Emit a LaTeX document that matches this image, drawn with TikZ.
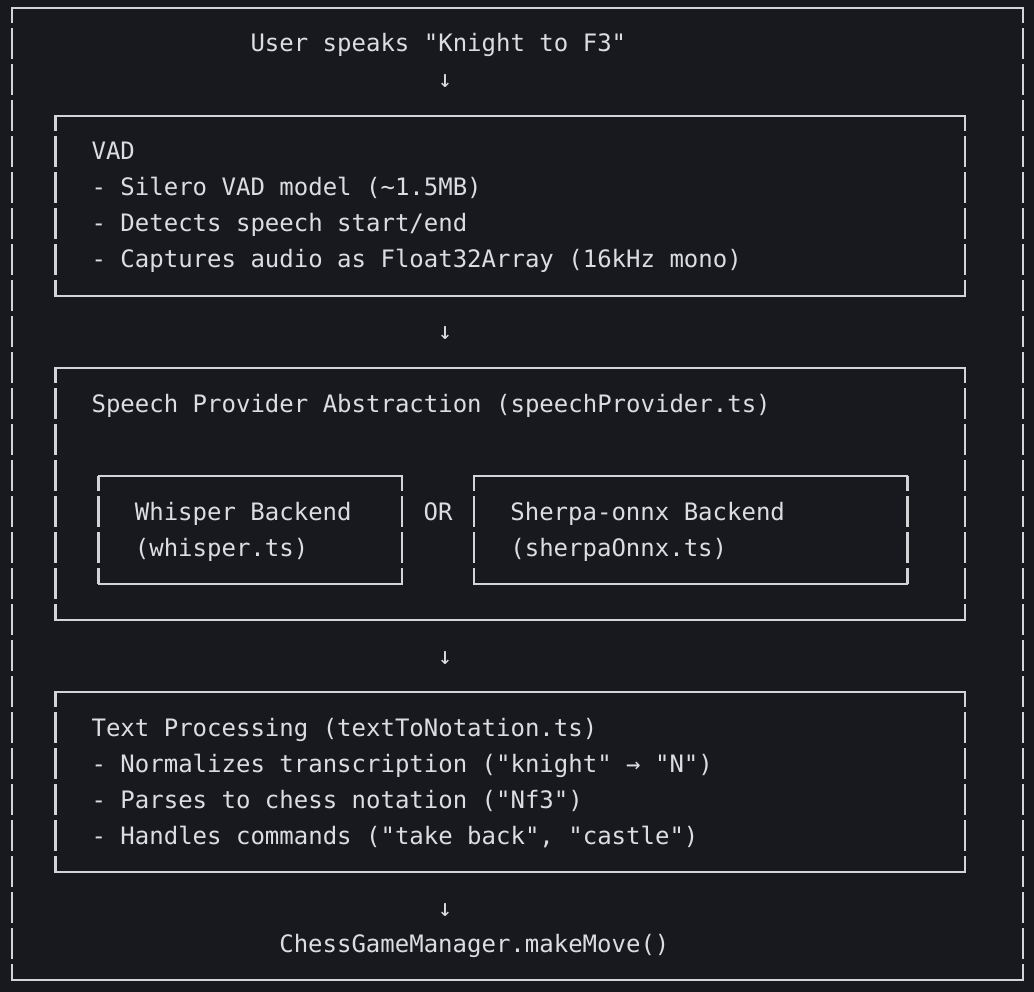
\documentclass[tikz,border=0pt]{standalone}
\usepackage{fontspec}
\setmonofont{DejaVu Sans Mono}
\usetikzlibrary{fit}
\definecolor{termbg}{RGB}{24,25,31}
\definecolor{termfg}{RGB}{221,221,223}
\definecolor{termline}{RGB}{212,212,214}

\begin{document}
\begin{tikzpicture}[
    x=1pt, y=-1pt,
    txt/.style={anchor=base west, inner sep=0pt, text=termfg,
                font=\ttfamily\fontsize{24}{36}\selectfont},
    down/.style={txt, anchor=base},
    frame/.style={inner sep=0pt, outer sep=0pt},
    hline/.style={draw=termline, line width=2.2pt, line cap=rect},
    vline/.style={draw=termline, line width=2.4pt, dash pattern=on 31pt off 5pt, dash phase=16pt}
]
    \fill[termbg] (0,0) rectangle (1034,992);
    \useasboundingbox (0,0) rectangle (1034,992);

    % boxes (corners on the character grid)
    \node[frame, fit={(12,8) (1022.8,980)}] (outer) {};
    \node[frame, fit={(55.3,116) (965,296)}] (vad) {};
    \node[frame, fit={(55.3,368) (965,620)}] (speech) {};
    \node[frame, fit={(98.6,476) (401.9,584)}] (whisper) {};
    \node[frame, fit={(474,476) (907.3,584)}] (sherpa) {};
    \node[frame, fit={(55.3,692) (965,872)}] (textproc) {};
    \foreach \b in {outer,vad,speech,whisper,sherpa,textproc}{
        \draw[hline] (\b.north west) -- (\b.north east);
        \draw[hline] (\b.south west) -- (\b.south east);
        \draw[vline] (\b.north west) -- (\b.south west);
        \draw[vline] (\b.north east) -- (\b.south east);
    }

    \node[txt] (user) at (250.3,52) {User speaks "Knight to F3"};
    \node[down] (down1) at (445.2,88) {↓};

    \node[txt] (vadtitle) at (91.4,160) {VAD};
    \node[txt] (vadmodel) at (91.4,196) {- Silero VAD model (\textasciitilde1.5MB)};
    \node[txt] (vaddetect) at (91.4,232) {- Detects speech start/end};
    \node[txt] (vadaudio) at (91.4,268) {- Captures audio as Float32Array (16kHz mono)};
    \node[down] (down2) at (445.2,340) {↓};

    \node[txt] (spktitle) at (91.4,412) {Speech Provider Abstraction (speechProvider.ts)};
    \node[txt] (whispername) at (134.7,520) {Whisper Backend};
    \node[txt] (whisperfile) at (134.7,556) {(whisper.ts)};
    \node[txt] (orword) at (423.5,520) {OR};
    \node[txt] (sherpaname) at (510.2,520) {Sherpa-onnx Backend};
    \node[txt] (sherpafile) at (510.2,556) {(sherpaOnnx.ts)};
    \node[down] (down3) at (445.2,664) {↓};

    \node[txt] (texttitle) at (91.4,736) {Text Processing (textToNotation.ts)};
    \node[txt] (textnorm) at (91.4,772) {- Normalizes transcription ("knight" → "N")};
    \node[txt] (textparse) at (91.4,808) {- Parses to chess notation ("Nf3")};
    \node[txt] (textcmd) at (91.4,844) {- Handles commands ("take back", "castle")};
    \node[down] (down4) at (445.2,916) {↓};

    \node[txt] (makemove) at (279.1,952) {ChessGameManager.makeMove()};
\end{tikzpicture}
\end{document}
